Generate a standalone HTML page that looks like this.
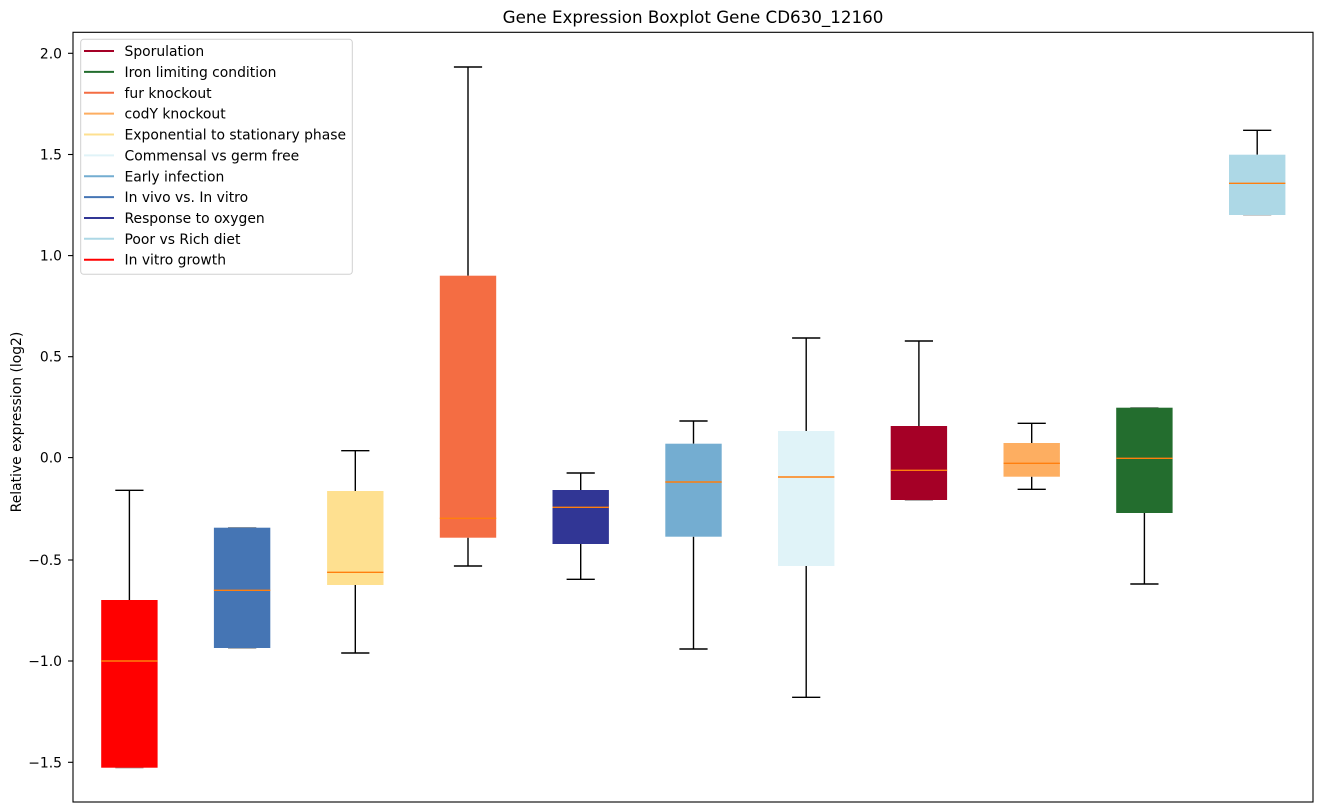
<!DOCTYPE html>
<html><head><meta charset="utf-8"><style>
html,body{margin:0;padding:0;background:#fff;}
svg{display:block;}
text{font-family:"DejaVu Sans","Liberation Sans",sans-serif;fill:#000;}
</style></head><body>
<svg width="1322" height="812" viewBox="0 0 1322 812" xmlns="http://www.w3.org/2000/svg">
<rect width="1322" height="812" fill="#fff"/>
<!-- title -->
<text x="693" y="23" font-size="16.7" text-anchor="middle">Gene Expression Boxplot Gene CD630_12160</text>
<!-- y label -->
<text transform="translate(21,422) rotate(-90)" font-size="13.9" text-anchor="middle">Relative expression (log2)</text>
<!-- y ticks -->
<g font-size="13.9" text-anchor="end" stroke-width="1.1">
<line x1="68" y1="53.3" x2="73" y2="53.3" stroke="#000"/><text x="62" y="58.3">2.0</text>
<line x1="68" y1="154.5" x2="73" y2="154.5" stroke="#000"/><text x="62" y="159.5">1.5</text>
<line x1="68" y1="255.6" x2="73" y2="255.6" stroke="#000"/><text x="62" y="260.6">1.0</text>
<line x1="68" y1="356.7" x2="73" y2="356.7" stroke="#000"/><text x="62" y="361.7">0.5</text>
<line x1="68" y1="457.6" x2="73" y2="457.6" stroke="#000"/><text x="62" y="462.6">0.0</text>
<line x1="68" y1="560" x2="73" y2="560" stroke="#000"/><text x="62" y="565">−0.5</text>
<line x1="68" y1="661" x2="73" y2="661" stroke="#000"/><text x="62" y="666">−1.0</text>
<line x1="68" y1="762.3" x2="73" y2="762.3" stroke="#000"/><text x="62" y="767.3">−1.5</text>
</g>

<g stroke-width="1.4">
<!-- Box 1: In vitro growth -->
<line x1="129.4" y1="490.3" x2="129.4" y2="600" stroke="#000"/>
<line x1="115.3" y1="490.3" x2="143.5" y2="490.3" stroke="#000"/>
<line x1="115.3" y1="767.7" x2="143.5" y2="767.7" stroke="#999"/>
<rect x="101.2" y="600" width="56.4" height="167.7" fill="#ff0000"/>
<line x1="101.2" y1="661" x2="157.6" y2="661" stroke="#ff7f0e"/>

<!-- Box 2: In vivo vs In vitro -->
<line x1="228" y1="527.7" x2="256.3" y2="527.7" stroke="#999"/>
<line x1="228" y1="648" x2="256.3" y2="648" stroke="#999"/>
<rect x="213.9" y="527.7" width="56.4" height="120.3" fill="#4575b4"/>
<line x1="213.9" y1="590.3" x2="270.3" y2="590.3" stroke="#ff7f0e"/>

<!-- Box 3: Exponential -->
<line x1="355.3" y1="450.7" x2="355.3" y2="491" stroke="#000"/>
<line x1="355.3" y1="585" x2="355.3" y2="653" stroke="#000"/>
<line x1="341.2" y1="450.7" x2="369.4" y2="450.7" stroke="#000"/>
<line x1="341.2" y1="653" x2="369.4" y2="653" stroke="#000"/>
<rect x="327.1" y="491" width="56.4" height="94" fill="#fee090"/>
<line x1="327.1" y1="572.3" x2="383.5" y2="572.3" stroke="#ff7f0e"/>

<!-- Box 4: fur knockout -->
<line x1="468" y1="67" x2="468" y2="275.7" stroke="#000"/>
<line x1="468" y1="537.7" x2="468" y2="566" stroke="#000"/>
<line x1="453.9" y1="67" x2="482.1" y2="67" stroke="#000"/>
<line x1="453.9" y1="566" x2="482.1" y2="566" stroke="#000"/>
<rect x="439.8" y="275.7" width="56.4" height="262" fill="#f46d43"/>
<line x1="439.8" y1="518.3" x2="496.2" y2="518.3" stroke="#ff7f0e"/>

<!-- Box 5: Response to oxygen -->
<line x1="580.7" y1="473" x2="580.7" y2="490" stroke="#000"/>
<line x1="580.7" y1="544" x2="580.7" y2="579.3" stroke="#000"/>
<line x1="566.6" y1="473" x2="594.8" y2="473" stroke="#000"/>
<line x1="566.6" y1="579.3" x2="594.8" y2="579.3" stroke="#000"/>
<rect x="552.5" y="490" width="56.4" height="54" fill="#313695"/>
<line x1="552.5" y1="507.3" x2="608.9" y2="507.3" stroke="#ff7f0e"/>

<!-- Box 6: Early infection -->
<line x1="693.5" y1="421" x2="693.5" y2="443.7" stroke="#000"/>
<line x1="693.5" y1="536.7" x2="693.5" y2="649" stroke="#000"/>
<line x1="679.4" y1="421" x2="707.6" y2="421" stroke="#000"/>
<line x1="679.4" y1="649" x2="707.6" y2="649" stroke="#000"/>
<rect x="665.3" y="443.7" width="56.4" height="93" fill="#74add1"/>
<line x1="665.3" y1="482" x2="721.7" y2="482" stroke="#ff7f0e"/>

<!-- Box 7: Commensal -->
<line x1="806.2" y1="338" x2="806.2" y2="431" stroke="#000"/>
<line x1="806.2" y1="566" x2="806.2" y2="697.3" stroke="#000"/>
<line x1="792.1" y1="338" x2="820.3" y2="338" stroke="#000"/>
<line x1="792.1" y1="697.3" x2="820.3" y2="697.3" stroke="#000"/>
<rect x="778" y="431" width="56.4" height="135" fill="#e0f3f8"/>
<line x1="778" y1="477" x2="834.4" y2="477" stroke="#ff7f0e"/>

<!-- Box 8: Sporulation -->
<line x1="918.9" y1="341" x2="918.9" y2="426" stroke="#000"/>
<line x1="904.8" y1="341" x2="933" y2="341" stroke="#000"/>
<line x1="904.8" y1="500" x2="933" y2="500" stroke="#999"/>
<rect x="890.7" y="426" width="56.4" height="74" fill="#a50026"/>
<line x1="890.7" y1="470.3" x2="947.1" y2="470.3" stroke="#ff7f0e"/>

<!-- Box 9: codY -->
<line x1="1031.7" y1="423.3" x2="1031.7" y2="443" stroke="#000"/>
<line x1="1031.7" y1="476.7" x2="1031.7" y2="489.3" stroke="#000"/>
<line x1="1017.6" y1="423.3" x2="1045.8" y2="423.3" stroke="#000"/>
<line x1="1017.6" y1="489.3" x2="1045.8" y2="489.3" stroke="#000"/>
<rect x="1003.5" y="443" width="56.4" height="33.7" fill="#fdae61"/>
<line x1="1003.5" y1="463.3" x2="1059.9" y2="463.3" stroke="#ff7f0e"/>

<!-- Box 10: Iron -->
<line x1="1144.4" y1="513" x2="1144.4" y2="584" stroke="#000"/>
<line x1="1130.3" y1="407.7" x2="1158.5" y2="407.7" stroke="#999"/>
<line x1="1130.3" y1="584" x2="1158.5" y2="584" stroke="#000"/>
<rect x="1116.2" y="407.7" width="56.4" height="105.3" fill="#236d2e"/>
<line x1="1116.2" y1="458.3" x2="1172.6" y2="458.3" stroke="#ff7f0e"/>

<!-- Box 11: Poor vs Rich -->
<line x1="1257.2" y1="130.3" x2="1257.2" y2="154.7" stroke="#000"/>
<line x1="1243.1" y1="130.3" x2="1271.3" y2="130.3" stroke="#000"/>
<line x1="1243.1" y1="215" x2="1271.3" y2="215" stroke="#bbb"/>
<rect x="1229" y="154.7" width="56.4" height="60.3" fill="#add8e6"/>
<line x1="1229" y1="183.3" x2="1285.4" y2="183.3" stroke="#ff7f0e"/>
</g>

<!-- axes frame -->
<rect x="73" y="32.3" width="1240" height="769.7" fill="none" stroke="#000" stroke-width="1.1"/>

<!-- legend -->
<rect x="80.7" y="39.3" width="271.6" height="235" rx="3" ry="3" fill="#fff" fill-opacity="0.8" stroke="#d0d0d0" stroke-width="1"/>
<g stroke-width="2" font-size="13.9">
<line x1="84" y1="51" x2="114" y2="51" stroke="#a50026"/><text x="124.5" y="56">Sporulation</text>
<line x1="84" y1="71.9" x2="114" y2="71.9" stroke="#236d2e"/><text x="124.5" y="76.9">Iron limiting condition</text>
<line x1="84" y1="92.8" x2="114" y2="92.8" stroke="#f46d43"/><text x="124.5" y="97.8">fur knockout</text>
<line x1="84" y1="113.6" x2="114" y2="113.6" stroke="#fdae61"/><text x="124.5" y="118.6">codY knockout</text>
<line x1="84" y1="134.5" x2="114" y2="134.5" stroke="#fee090"/><text x="124.5" y="139.5">Exponential to stationary phase</text>
<line x1="84" y1="155.4" x2="114" y2="155.4" stroke="#e0f3f8"/><text x="124.5" y="160.4">Commensal vs germ free</text>
<line x1="84" y1="176.3" x2="114" y2="176.3" stroke="#74add1"/><text x="124.5" y="181.3">Early infection</text>
<line x1="84" y1="197.1" x2="114" y2="197.1" stroke="#4575b4"/><text x="124.5" y="202.1">In vivo vs. In vitro</text>
<line x1="84" y1="218" x2="114" y2="218" stroke="#313695"/><text x="124.5" y="223">Response to oxygen</text>
<line x1="84" y1="238.8" x2="114" y2="238.8" stroke="#add8e6"/><text x="124.5" y="243.8">Poor vs Rich diet</text>
<line x1="84" y1="259.7" x2="114" y2="259.7" stroke="#ff0000"/><text x="124.5" y="264.7">In vitro growth</text>
</g>
</svg>
</body></html>
